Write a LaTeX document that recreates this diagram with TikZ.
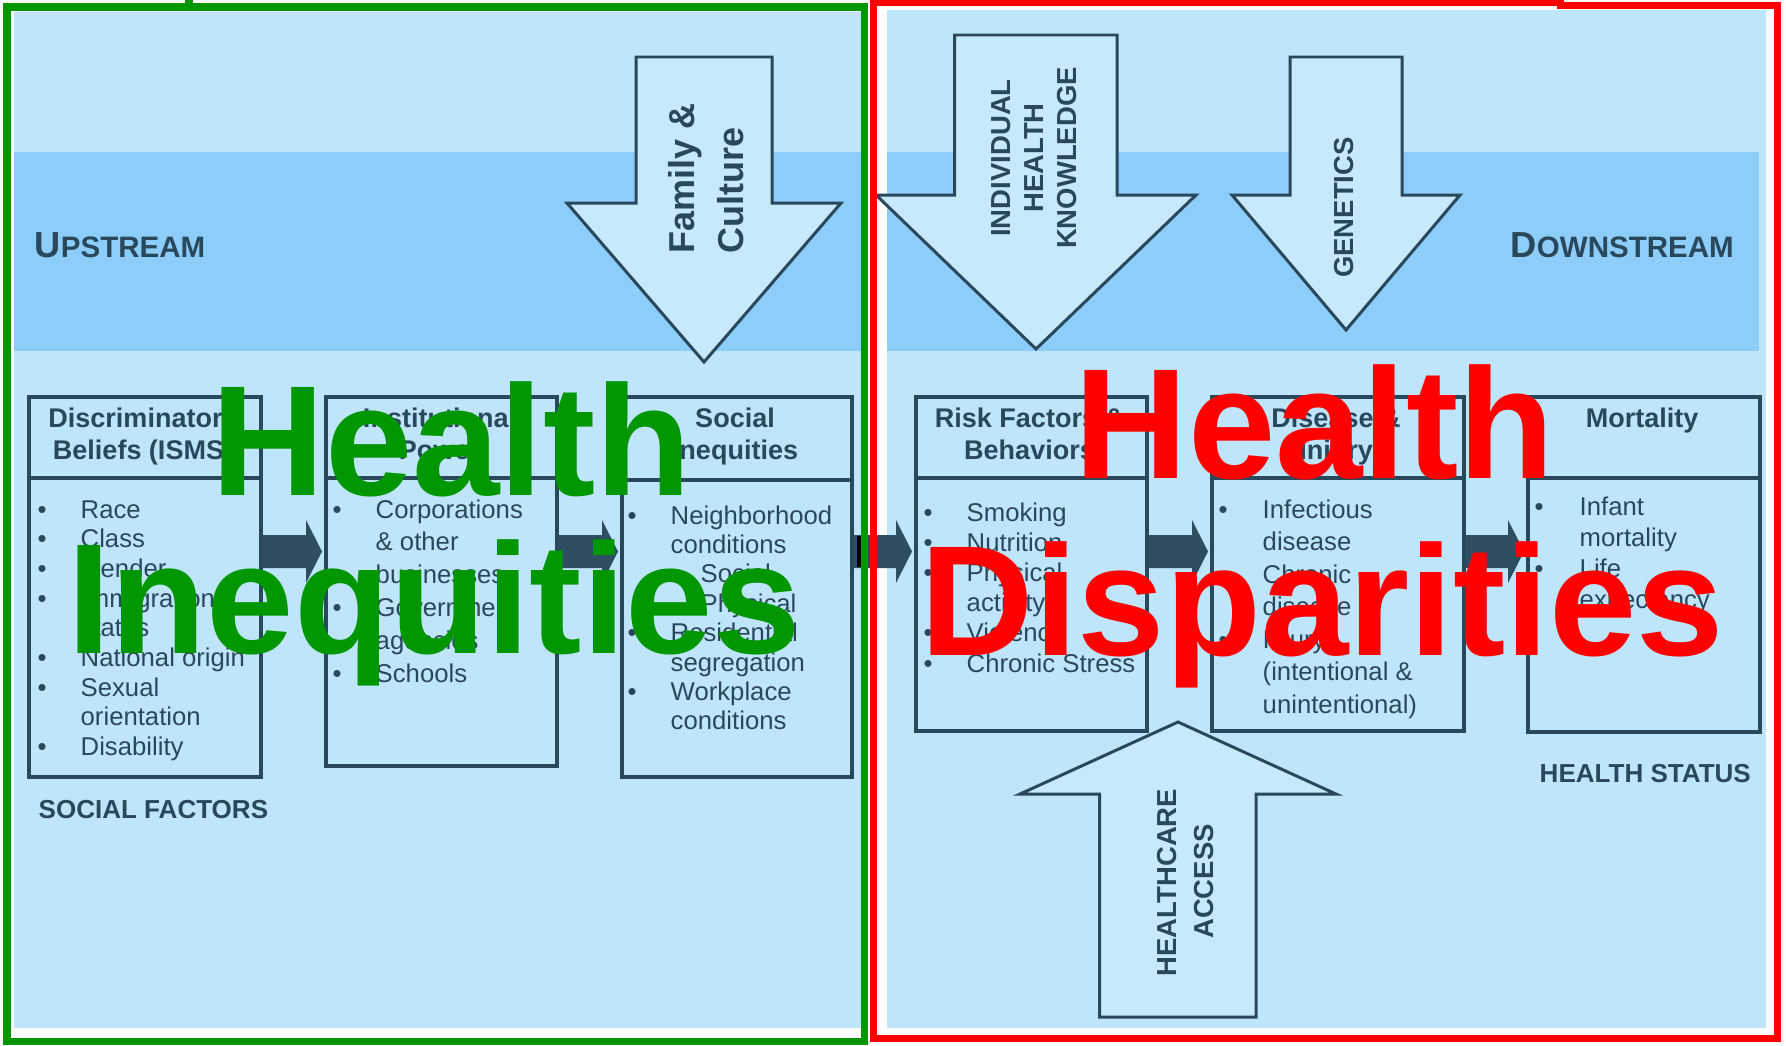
\documentclass[tikz,border=0pt]{standalone}
\usepackage{fontspec}
\setmainfont{Liberation Sans}
\usetikzlibrary{calc}
\definecolor{bgblue}{RGB}{190,229,250}
\definecolor{bandblue}{RGB}{140,205,250}
\definecolor{arrfill}{RGB}{198,233,252}
\definecolor{ink}{RGB}{42,72,92}
\definecolor{harr}{RGB}{46,78,98}
\definecolor{igreen}{RGB}{0,150,0}
\definecolor{dred}{RGB}{255,0,0}
\tikzset{
 body/.style={font=\fontsize{7.31pt}{8pt}\selectfont, text=ink, inner sep=0pt, anchor=base west},
 bul/.style={font=\fontsize{7.31pt}{8pt}\selectfont, text=ink, inner sep=0pt, anchor=base},
 ttl/.style={font=\bfseries\fontsize{7.68pt}{8pt}\selectfont, text=ink, inner sep=0pt, anchor=base},
 stage/.style={draw=ink, line width=1pt, fill=bgblue, inner sep=0pt, anchor=north west},
 divider/.style={draw=ink, line width=1pt},
 blockarr/.style={draw=ink, line width=0.85pt, fill=arrfill, line join=miter},
 flowarr/.style={fill=harr},
 arrtxt/.style={font=\bfseries\fontsize{7.82pt}{8pt}\selectfont, text=ink, inner sep=0pt, rotate=90, anchor=base},
 famtxt/.style={font=\bfseries\fontsize{10.24pt}{11pt}\selectfont, text=ink, inner sep=0pt, rotate=90, anchor=base west},
 lbl/.style={font=\bfseries\fontsize{7.4pt}{8pt}\selectfont, text=ink, inner sep=0pt, anchor=base west},
 streamtxt/.style={font=\bfseries, text=ink, inner sep=0pt, anchor=base west},
 big/.style={font=\bfseries\fontsize{44.67pt}{46pt}\selectfont, inner sep=0pt, anchor=base west},
 gframe/.style={draw=igreen, line width=2pt},
 rframe/.style={draw=dred, line width=2pt},
}
\newcommand\flowarrow[2]{%
 \fill[flowarr] ($(#1.east|-ay)+(0,-16.5)$) -- ($(#2.west|-ay)+(-18,-16.5)$) -- ($(#2.west|-ay)+(-18,-31.5)$) -- ($(#2.west|-ay)+(-2,0)$) -- ($(#2.west|-ay)+(-18,31.5)$) -- ($(#2.west|-ay)+(-18,16.5)$) -- ($(#1.east|-ay)+(0,16.5)$) -- cycle;}
\newcommand\bigU[2]{{\fontsize{10.3pt}{11pt}\selectfont #1}{\fontsize{8.4pt}{9pt}\selectfont #2}}
\begin{document}
\begin{tikzpicture}[x=0.01cm,y=-0.01cm]
\useasboundingbox (0,0) rectangle (1786,1045);
\fill[white] (0,0) rectangle (1786,1045);
% panels
\fill[bgblue] (14,12) rectangle (861,1028);
\fill[bgblue] (887,10) rectangle (1766,1028);
\fill[bandblue] (14,152) rectangle (861,351);
\fill[bandblue] (887,152) rectangle (1759,351);
% stage boxes
\node[stage, minimum width=2.32cm, minimum height=3.80cm] (b1) at (27,395) {};
\node[stage, minimum width=2.31cm, minimum height=3.69cm] (b2) at (324,395) {};
\node[stage, minimum width=2.30cm, minimum height=3.80cm] (b3) at (620,395) {};
\node[stage, minimum width=2.31cm, minimum height=3.34cm] (b4) at (914,395) {};
\node[stage, minimum width=2.52cm, minimum height=3.34cm] (b5) at (1210,395) {};
\node[stage, minimum width=2.32cm, minimum height=3.35cm] (b6) at (1526,395) {};
\coordinate (dv) at (0,478);
\coordinate (dv3) at (0,480);
\foreach \b in {b1,b2,b4,b5,b6} \draw[divider] (\b.west|-dv) -- (\b.east|-dv);
\draw[divider] (b3.west|-dv3) -- (b3.east|-dv3);
% flow arrows
\coordinate (ay) at (0,551.5);
\flowarrow{b1}{b2}
\flowarrow{b2}{b3}
\flowarrow{b3}{b4}
\flowarrow{b4}{b5}
\flowarrow{b5}{b6}
\fill[black] ($(b3.east|-ay)+(3,-15.5)$) rectangle ($(b3.east|-ay)+(14,15.5)$);
% titles
\node[ttl] (t1a) at (143,427) {Discriminatory};
\node[ttl] (t1b) at (143,459) {Beliefs (ISMS)};
\node[ttl] (t2a) at (439.5,427) {Institutional};
\node[ttl] (t2b) at (439.5,459) {Power};
\node[ttl] (t3a) at (735,427) {Social};
\node[ttl] (t3b) at (735,459) {Inequities};
\node[ttl] (t4a) at (1029.5,427) {Risk Factors \&};
\node[ttl] (t4b) at (1029.5,459) {Behaviors};
\node[ttl] (t5a) at (1336,427) {Disease \&};
\node[ttl] (t5b) at (1336,459) {Injury};
\node[ttl] (t6a) at (1642,427) {Mortality};
% bodies
\foreach \t [count=\i from 0] in {Race,Class,Gender,Immigration,status,National origin,Sexual,orientation,Disability}
  \node[body] (b1t\i) at (80,518+\i*29.7) {\t};
\foreach \i in {0,1,2,3,5,6,8} \node[bul] (b1d\i) at (42,518+\i*29.7) {•};
\foreach \t [count=\i from 0] in {Corporations,\& other,businesses,Government,agencies,Schools}
  \node[body] (b2t\i) at (375,518+\i*32.8) {\t};
\foreach \i in {0,3,5} \node[bul] (b2d\i) at (337,518+\i*32.8) {•};
\foreach \x/\t [count=\i from 0] in {670/Neighborhood,670/conditions,700/Social,700/Physical,670/Residential,670/segregation,670/Workplace,670/conditions}
  \node[body] (b3t\i) at (\x,524+\i*29.4) {\t};
\foreach \i in {0,4,6} \node[bul] (b3d\i) at (632,524+\i*29.4) {•};
\foreach \t [count=\i from 0] in {Smoking,Nutrition,Physical,activity,Violence,Chronic Stress}
  \node[body] (b4t\i) at (966,521+\i*30.2) {\t};
\foreach \i in {0,1,2,4,5} \node[bul] (b4d\i) at (928,521+\i*30.2) {•};
\foreach \t [count=\i from 0] in {Infectious,disease,Chronic,disease,Injury,{(intentional \&},{unintentional)}}
  \node[body] (b5t\i) at (1262,518+\i*32.5) {\t};
\foreach \i in {0,2,4} \node[bul] (b5d\i) at (1223,518+\i*32.5) {•};
\foreach \t [count=\i from 0] in {Infant,mortality,Life,expectancy}
  \node[body] (b6t\i) at (1579,515+\i*31) {\t};
\foreach \i in {0,2} \node[bul] (b6d\i) at (1539,515+\i*31) {•};
% block arrows
\draw[blockarr] (636,57) -- (772,57) -- (772,203) -- (841,203) -- (704,362) -- (567,203) -- (636,203) -- cycle;
\draw[blockarr] (954.5,35) -- (1117,35) -- (1117,195) -- (1196,195) -- (1036,349) -- (876,195) -- (954.5,195) -- cycle;
\draw[blockarr] (1290,57) -- (1402,57) -- (1402,195) -- (1460,195) -- (1346,330) -- (1232,195) -- (1290,195) -- cycle;
\draw[blockarr] (1099.5,1017) -- (1256,1017) -- (1256,794) -- (1336,794) -- (1178,722) -- (1020,794) -- (1099.5,794) -- cycle;
\node[famtxt] (fam1) at (694,254) {Family \&};
\node[famtxt] (fam2) at (743,254) {Culture};
\node[arrtxt] (ihk1) at (1010,158) {INDIVIDUAL};
\node[arrtxt] (ihk2) at (1043,158) {HEALTH};
\node[arrtxt] (ihk3) at (1076,158) {KNOWLEDGE};
\node[arrtxt] (gen) at (1353,207.5) {GENETICS};
\node[arrtxt] (hca1) at (1176,882.5) {HEALTHCARE};
\node[arrtxt] (hca2) at (1213,881.5) {ACCESS};
% labels
\node[streamtxt] (up) at (34,257) {\bigU{U}{PSTREAM}};
\node[streamtxt] (down) at (1510,257) {\bigU{D}{OWNSTREAM}};
\node[lbl] (sf) at (38,818) {SOCIAL FACTORS};
\node[lbl] (hs) at (1539,782) {HEALTH STATUS};
% frames
\draw[gframe] (7,7) rectangle (864,1041);
\draw[gframe] (189,0) -- (189,7);
\draw[rframe] (873.5,1038) -- (873.5,2.5) -- (1560,2.5) -- (1560,5.5) -- (1777,5.5) -- (1777,1038) -- cycle;
% overlay titles
\node[big, text=igreen] (hi1) at (211,495) {Health};
\node[big, text=igreen] (hi2) at (66.5,653) {Inequities};
\node[big, text=dred] (hd1) at (1074,478) {Health};
\node[big, text=dred] (hd2) at (920,655) {Disparities};
\end{tikzpicture}
\end{document}
